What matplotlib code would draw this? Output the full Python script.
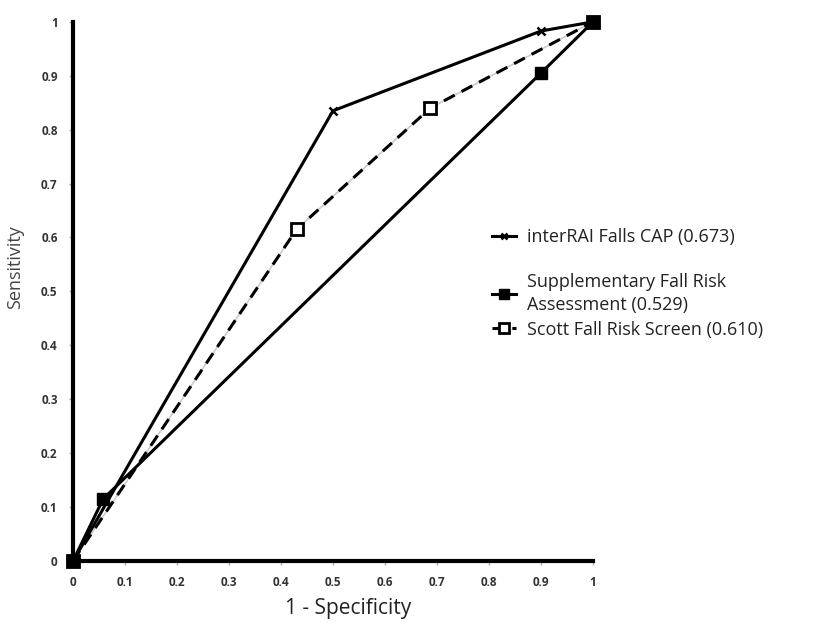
import matplotlib
matplotlib.use("Agg")
import matplotlib.pyplot as plt

plt.rcParams['font.family'] = ['Open Sans', 'DejaVu Sans']

# ROC points
interrai_x = [0, 0.5, 0.9, 1]
interrai_y = [0, 0.835, 0.983, 1]
supp_x = [0, 0.058, 0.9, 1]
supp_y = [0, 0.115, 0.905, 1]
scott_x = [0, 0.43, 0.687, 1]
scott_y = [0, 0.615, 0.84, 1]

labels = ['interRAI Falls CAP (0.673)',
          'Supplementary Fall Risk\nAssessment (0.529)',
          'Scott Fall Risk Screen (0.610)']
ticks = [0, 0.1, 0.2, 0.3, 0.4, 0.5, 0.6, 0.7, 0.8, 0.9, 1]
tick_labels = ['0', '0.1', '0.2', '0.3', '0.4', '0.5', '0.6', '0.7', '0.8', '0.9', '1']

fig = plt.figure(figsize=(8.14, 6.24), dpi=100)
ax = fig.add_axes([0.0897, 0.101, 0.6388, 0.864])

# light grey line under the dashes
ax.plot(scott_x, scott_y, color='#cccccc', lw=1.2, clip_on=False, zorder=2)
l3, = ax.plot(scott_x, scott_y, color='black', lw=2.2, ls=(0, (4, 2.5)),
              marker='s', ms=9, mfc='white', mec='black', mew=2,
              clip_on=False, zorder=3)
l1, = ax.plot(interrai_x, interrai_y, color='black', lw=2.2, marker='x',
              ms=6, mew=1.8, clip_on=False, zorder=4)
l2, = ax.plot(supp_x, supp_y, color='black', lw=2.2, marker='s',
              ms=9, clip_on=False, zorder=5)

ax.set_xlim(0, 1)
ax.set_ylim(0, 1)
ax.set_xticks(ticks)
ax.set_xticklabels(tick_labels)
ax.set_yticks(ticks)
ax.set_yticklabels(tick_labels)
ax.tick_params(labelsize=8.5, length=3, width=1, color='#aaaaaa', pad=8)
for lab in ax.get_xticklabels() + ax.get_yticklabels():
    lab.set_fontweight('bold')
    lab.set_color('#333333')

for s in ['top', 'right']:
    ax.spines[s].set_visible(False)
for s in ['left', 'bottom']:
    ax.spines[s].set_linewidth(3)

ax.set_xlabel('1 - Specificity', fontsize=15, color='#222222')
ax.xaxis.set_label_coords(0.53, -0.068)
ax.set_ylabel('Sensitivity', fontsize=13, color='#444444')
ax.yaxis.set_label_coords(-0.095, 0.545)

leg_kw = dict(loc='upper left', frameon=False, fontsize=13,
              handlelength=1.3, handletextpad=0.6, labelspacing=0.35,
              markerscale=0.8, labelcolor='#222222')
leg1 = fig.legend([l1], labels[:1], bbox_to_anchor=(0.585, 0.66), **leg_kw)
leg2 = fig.legend([l2, l3], labels[1:], bbox_to_anchor=(0.585, 0.588), **leg_kw)
for t in leg2.get_texts():
    t.set_linespacing(1.35)

fig.savefig('out.png', dpi=100)
